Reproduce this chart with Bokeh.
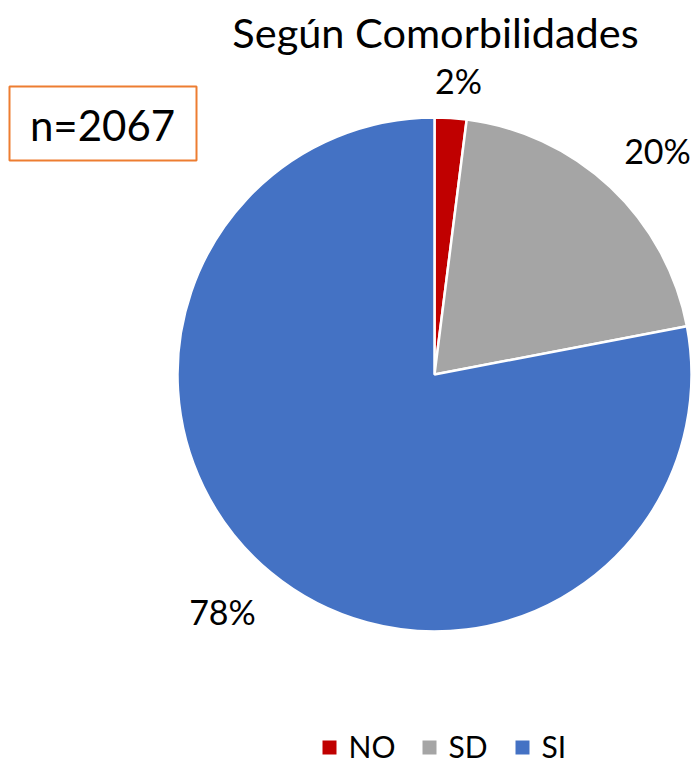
import math
from bokeh.plotting import figure
from bokeh.models import Range1d, ColumnDataSource
from bokeh.core.properties import value
from bokeh.embed import file_html
from bokeh.resources import INLINE

# ---- data ----
categories = ["NO", "SD", "SI"]
percents = [2, 20, 78]
colors = ["#C00000", "#A5A5A5", "#4472C4"]
label_texts = ["2%", "20%", "78%"]
title_text = "Según Comorbilidades"
n_text = "n=2067"

FONT = "Lato"
W, H = 695, 763

def py(page_y):
    return H - page_y

p = figure(width=W, height=H, output_backend="svg", toolbar_location=None,
           x_range=Range1d(0, W), y_range=Range1d(0, H),
           min_border=0, outline_line_color=None)
p.axis.visible = False
p.grid.visible = False
p.background_fill_color = "white"
p.border_fill_color = "white"

# pie
cx, cy, r = 434, py(374), 257
total = sum(percents)
starts, ends = [], []
acc = 0.0
for v in percents:
    a0 = math.pi / 2 - 2 * math.pi * acc / total
    acc += v
    a1 = math.pi / 2 - 2 * math.pi * acc / total
    starts.append(a0)
    ends.append(a1)
src = ColumnDataSource(dict(x=[cx] * 3, y=[cy] * 3, start=starts, end=ends,
                            color=colors, cat=categories))
p.wedge(x="x", y="y", radius=r, start_angle="start", end_angle="end",
        direction="clock", fill_color="color", line_color="white",
        line_width=2.5, source=src)

# data labels
lx = [458, 657, 222]
ly = [py(80), py(150), py(611)]
p.text(x=lx, y=ly, text=label_texts, text_font=value(FONT),
       text_font_size="34px", text_align="center", text_baseline="middle",
       text_color="black")

# title
p.text(x=[435], y=[py(31)], text=[title_text], text_font=value(FONT),
       text_font_size="41.5px", text_align="center", text_baseline="middle",
       text_color="black")

# n box
p.quad(left=[9], right=[196], top=[py(86)], bottom=[py(160)],
       fill_color="white", line_color="#ED7D31", line_width=2)
p.text(x=[102], y=[py(124)], text=[n_text], text_font=value(FONT),
       text_font_size="42px", text_align="center", text_baseline="middle",
       text_color="black")

# legend
sq_x = [329, 429, 522]
txt_x = [348, 448, 541]
leg_y = py(745)
p.scatter(x=sq_x, y=[py(747)] * 3, marker="square", size=14,
          fill_color=colors, line_color=None)
p.text(x=txt_x, y=[leg_y] * 3, text=categories, text_font=value(FONT),
       text_font_size="30px", text_align="left", text_baseline="middle",
       text_color="black")

open("out.html", "w").write(file_html(p, INLINE))
